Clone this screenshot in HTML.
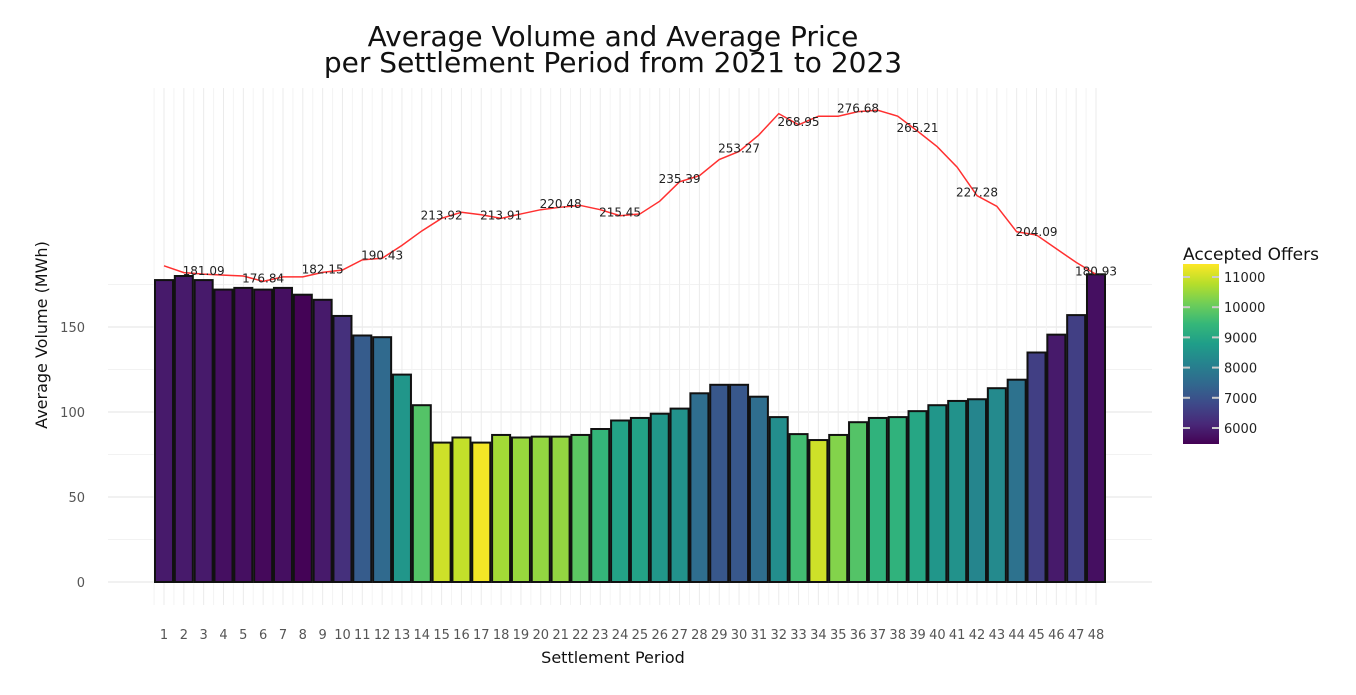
<!DOCTYPE html>
<html><head><meta charset="utf-8"><style>
body{margin:0;background:#fff;font-family:"Liberation Sans","DejaVu Sans",sans-serif;}
svg text{font-family:"DejaVu Sans","Liberation Sans",sans-serif;}
</style></head><body>
<svg id="chart" width="1356" height="690" xmlns="http://www.w3.org/2000/svg">
<defs><linearGradient id="vir" x1="0" y1="1" x2="0" y2="0">
<stop offset="0" stop-color="#440154"/><stop offset="0.111" stop-color="#482878"/><stop offset="0.222" stop-color="#3e4989"/><stop offset="0.333" stop-color="#31688e"/><stop offset="0.444" stop-color="#26828e"/><stop offset="0.556" stop-color="#1f9e89"/><stop offset="0.667" stop-color="#35b779"/><stop offset="0.778" stop-color="#6ece58"/><stop offset="0.889" stop-color="#b5de2b"/><stop offset="1" stop-color="#fde725"/></linearGradient></defs>
<g id="grid"></g><g id="bars"></g><g id="line"></g><g id="axes"></g>
<text x="613" y="46" text-anchor="middle" font-size="28" fill="#111">Average Volume and Average Price</text>
<text x="613" y="72" text-anchor="middle" font-size="28" fill="#111">per Settlement Period from 2021 to 2023</text>
<text transform="translate(47,335) rotate(-90)" text-anchor="middle" font-size="16" fill="#111">Average Volume (MWh)</text>
<text x="613" y="663" text-anchor="middle" font-size="16" fill="#111">Settlement Period</text>
<g>
<text x="1183" y="260" font-size="17" fill="#111">Accepted Offers</text>
<rect x="1183" y="264" width="36" height="180" fill="url(#vir)"/>
<g id="cbticks"></g>
</g>
</svg>
<script>
const periods=[];for(let i=1;i<=48;i++)periods.push(i);
const volumes=[177.6,180,177.6,172,173,172,173,169,166,156.5,145,144,122,104,82,85,82,86.5,85,85.5,85.5,86.5,90,95,96.5,99,102,111,116,116,109,97,87,83.5,86.5,94,96.5,97,100.5,104,106.5,107.5,114,119,135,145.5,157,181];
const offers=[5900,5900,5900,5700,5700,5600,5700,5500,5900,6300,7200,7500,8600,9800,11000,10900,11350,10600,10500,10450,10450,9900,9400,8900,8900,8600,8500,7600,7100,7100,7600,8400,9600,11000,10300,9800,9300,9300,9000,8600,8500,8200,8300,7700,6600,5900,6600,5700];
const prices=[186,182,181.09,180.5,180,176.84,179.5,179.5,182.15,183.5,189.5,190.43,198,206.5,213.92,217.5,216,213.91,216.5,219,220.48,221.5,219,215.45,216.5,224,235.39,239,248.5,253.27,263,275.5,268.95,274,274,276.68,277.5,274,265.21,256,244,227.28,221,206,204.09,196,188,180.93];
const yTicks=[0,50,100,150];
const cbTicks=[6000,7000,8000,9000,10000,11000];
const NS="http://www.w3.org/2000/svg";
const x=p=>164+(p-1)*(1096-164)/47;
const y=v=>582-v*1.7;
const cmin=5470,cmax=11430;
const cy=c=>444-(c-cmin)/(cmax-cmin)*180;
const vstops=["#440154","#482878","#3e4989","#31688e","#26828e","#1f9e89","#35b779","#6ece58","#b5de2b","#fde725"];
function hex(h){return [1,3,5].map(i=>parseInt(h.substr(i,2),16));}
function color(c){let t=Math.max(0,Math.min(1,(c-cmin)/(cmax-cmin)))*9;
 const i=Math.min(8,Math.floor(t)),f=t-i;const a=hex(vstops[i]),b=hex(vstops[i+1]);
 return "rgb("+a.map((v,k)=>Math.round(v+(b[k]-v)*f)).join(",")+")";}
function mk(tag,attrs,parent,txt){const e=document.createElementNS(NS,tag);for(const k in attrs)e.setAttribute(k,attrs[k]);if(txt!==undefined)e.textContent=txt;document.getElementById(parent).appendChild(e);return e;}
const step=(1096-164)/47;
for(let v=25;v<=175;v+=50){const l=mk("line",{x1:108,x2:1152,y1:y(v),y2:y(v),stroke:"#f2f2f2","stroke-width":1},"grid");}
yTicks.forEach(v=>{const l=mk("line",{x1:108,x2:1152,y1:y(v),y2:y(v),stroke:"#e3e3e3","stroke-width":1},"grid");
const t=mk("text",{x:85,y:y(v)+5,"text-anchor":"end","font-size":13,fill:"#555"},"axes",v);});
periods.forEach(p=>{const l=mk("line",{x1:x(p),x2:x(p),y1:88,y2:605,stroke:"#ebebeb","stroke-width":1},"grid");
const m=mk("line",{x1:x(p)-step/2,x2:x(p)-step/2,y1:88,y2:605,stroke:"#f4f4f4","stroke-width":1},"grid");
const t=mk("text",{x:x(p),y:639,"text-anchor":"middle","font-size":13,fill:"#555"},"axes",p);});
periods.forEach((p,i)=>{const r=mk("rect",{x:x(p)-9,y:y(volumes[i]),width:18,height:volumes[i]*1.7,fill:color(offers[i]),stroke:"#111","stroke-width":2},"bars");
});
const pts=periods.map((p,i)=>x(p)+","+y(prices[i])).join(" ");
const pl=mk("polyline",{points:pts,fill:"none",stroke:"#ff3030","stroke-width":1.5},"line");

periods.forEach((p,i)=>{if(p%3===0){const t=mk("text",{x:x(p),y:y(prices[i])+1,"text-anchor":"middle","font-size":12,fill:"#222"},"line",prices[i].toFixed(2));
}});
cbTicks.forEach(c=>{const a=mk("line",{x1:1183,x2:1190,y1:cy(c),y2:cy(c),stroke:"#ccc","stroke-width":2},"cbticks");
const b=mk("line",{x1:1212,x2:1219,y1:cy(c),y2:cy(c),stroke:"#ccc","stroke-width":2},"cbticks");
const t=mk("text",{x:1224,y:cy(c)+5,"font-size":13,fill:"#222"},"cbticks",c);});
</script>
</body></html>
